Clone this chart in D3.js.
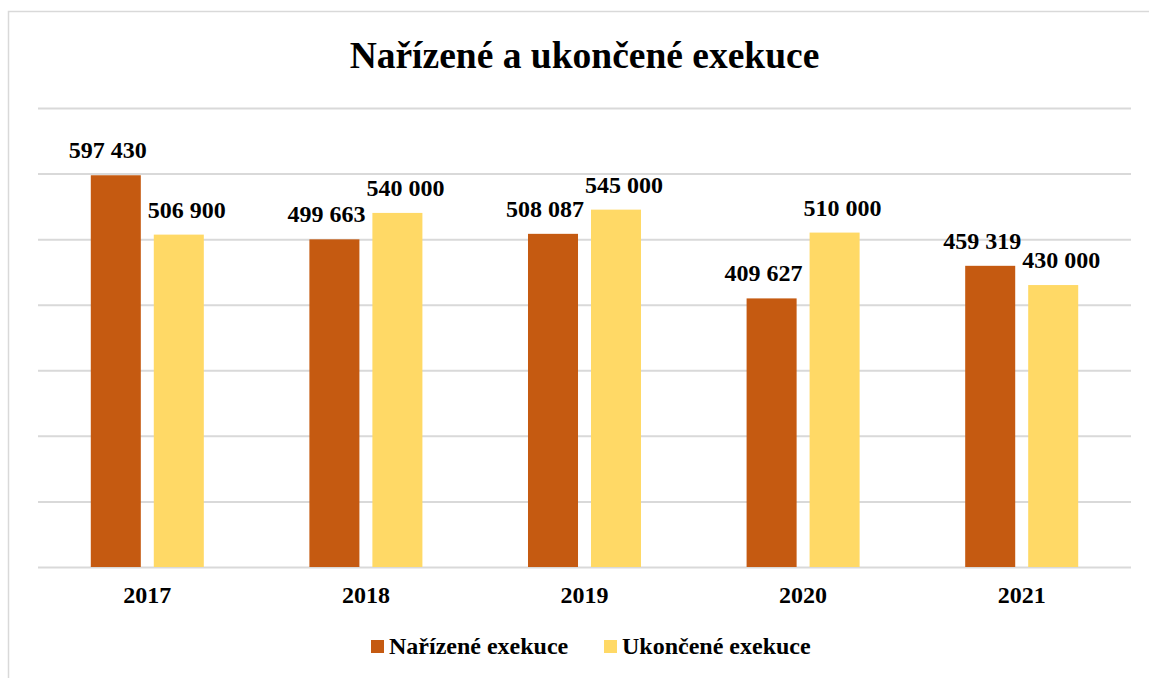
<!DOCTYPE html>
<html>
<head>
<meta charset="utf-8">
<script src="https://cdn.jsdelivr.net/npm/d3@7"></script>
<style>
  body { margin: 0; background: #fff; }
  svg text { font-family: "Liberation Serif", "Times New Roman", serif; font-weight: bold; fill: #000; }
</style>
</head>
<body>
<div class="viz"></div>
<script>
// data
const years = ['2017', '2018', '2019', '2020', '2021'];
const seriesNames = ['Nařízené exekuce', 'Ukončené exekuce'];
const narizene = [597430, 499663, 508087, 409627, 459319];
const ukoncene = [506900, 540000, 545000, 510000, 430000];
const yTicks = [0, 100000, 200000, 300000, 400000, 500000, 600000, 700000];
const colors = ['#C55A11', '#FFD966'];

const FONT = '"Liberation Serif", "Times New Roman", serif';
const W = 1149, H = 678;
const margins = { top: 108, right: 18, bottom: 111, left: 38 };
const width = W - margins.left - margins.right;
const height = H - margins.top - margins.bottom;

const svg = d3.select('div.viz')
    .append('svg')
    .attr('width', W)
    .attr('height', H)
    .attr('font-family', FONT);

// chart border
svg.append('rect')
    .attr('x', 8.5).attr('y', 11.5)
    .attr('width', 1200).attr('height', 700)
    .attr('fill', 'none')
    .attr('stroke', '#D9D9D9')
    .attr('stroke-width', 1.5);

svg.append('text')
    .attr('x', margins.left + width / 2)
    .attr('y', 68)
    .attr('text-anchor', 'middle')
    .style('font-family', FONT)
    .style('font-size', '37.5px')
    .text('Nařízené a ukončené exekuce');

const g = svg.append('g')
    .attr('transform', 'translate(' + margins.left + ',' + margins.top + ')');

const x0 = d3.scaleBand()
    .domain(years)
    .range([0, width])
    .paddingInner(0.483)
    .paddingOuter(0.2415);

const x1 = d3.scaleBand()
    .domain([0, 1])
    .range([0, x0.bandwidth()])
    .paddingInner(0.206);

const y = d3.scaleLinear()
    .domain([0, 700000])
    .range([height, 0]);

// gridlines
g.append('g')
    .attr('class', 'grid')
    .call(d3.axisLeft(y).tickValues(yTicks).tickSize(-width).tickFormat(''))
    .call(s => s.select('.domain').remove())
    .call(s => s.selectAll('line').attr('stroke', '#D9D9D9').attr('stroke-width', 2));

const rows = years.map((yr, i) => ({ year: yr, vals: [narizene[i], ukoncene[i]] }));
const fmt = v => d3.format(',')(v).replace(/,/g, ' ');

const groups = g.selectAll('g.bar-group')
    .data(rows)
    .enter()
    .append('g')
    .attr('class', 'bar-group')
    .attr('transform', d => 'translate(' + x0(d.year) + ',0)');

groups.selectAll('rect')
    .data(d => d.vals.map((v, k) => ({ v, k })))
    .enter()
    .append('rect')
    .attr('x', d => x1(d.k))
    .attr('y', d => y(d.v))
    .attr('width', x1.bandwidth())
    .attr('height', d => height - y(d.v))
    .attr('fill', d => colors[d.k]);

// labels nudged apart so neighbours don't collide
groups.selectAll('text')
    .data(d => d.vals.map((v, k) => ({ v, k })))
    .enter()
    .append('text')
    .attr('x', d => x1(d.k) + x1.bandwidth() / 2 + (d.k === 0 ? -8 : 8))
    .attr('y', d => y(d.v) - 17)
    .attr('text-anchor', 'middle')
    .style('font-family', FONT)
    .style('font-size', '24px')
    .text(d => fmt(d.v));

// x axis labels
g.append('g')
    .attr('transform', 'translate(0,' + height + ')')
    .call(d3.axisBottom(x0).tickSize(0).tickPadding(0))
    .call(s => s.select('.domain').remove())
    .call(s => s.selectAll('text')
        .attr('dy', null)
        .attr('y', 36)
        .style('font-size', '24px')
        .style('font-family', FONT));

// legend
const legend = svg.append('g').attr('transform', 'translate(0,654)');
const legendX = [371, 604];
seriesNames.forEach((name, k) => {
    legend.append('rect')
        .attr('x', legendX[k]).attr('y', -14)
        .attr('width', 13).attr('height', 13)
        .attr('fill', colors[k]);
    legend.append('text')
        .attr('x', legendX[k] + 18)
        .attr('y', 0)
        .style('font-family', FONT)
        .style('font-size', '24px')
        .text(name);
});
</script>
</body>
</html>
